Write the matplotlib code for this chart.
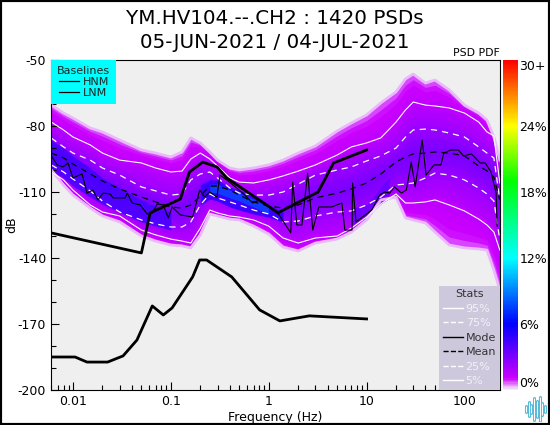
import numpy as np
import matplotlib
matplotlib.use("Agg")
import matplotlib.pyplot as plt
from matplotlib.cm import ScalarMappable
from matplotlib.colors import LinearSegmentedColormap, Normalize
from matplotlib.lines import Line2D
from matplotlib.patches import Rectangle

plt.rcParams['axes.unicode_minus'] = False

# frequency columns of the PDF
freq = [0.006, 0.008, 0.01, 0.015, 0.02, 0.03, 0.05, 0.07, 0.1, 0.13, 0.16, 0.2, 0.25, 0.3, 0.4, 0.5, 0.7, 1,
        1.4, 2, 3, 5, 7, 10, 14, 20, 25, 30, 40, 50, 70, 100, 140, 170, 200, 230]
env_hi = [-70.5, -74.1, -76.4, -80.9, -82.7, -86.4, -90.9, -92.3, -94.1, -91.8, -85.4, -87.7, -91.8, -95.5, -99.1, -100, -99.1, -97.7,
          -95.5, -92.3, -89.1, -82.3, -78.6, -75, -69.5, -64.5, -58.6, -56.4, -60.5, -59.1, -63.6, -70.5, -74.1, -77.3, -85, -95.5]
p95 = [-78.2, -81.8, -85, -88.6, -92.3, -95.5, -96.8, -99.1, -100.9, -100.5, -95, -92.3, -95, -98.2, -103.6, -105.5, -105.9, -104.5,
       -102.7, -100.5, -97.7, -93.2, -89.5, -87.7, -85.4, -78.2, -72.7, -69.1, -70.5, -70.9, -71.8, -74.1, -78.2, -82.7, -84.5, -105.9]
p75 = [-85.5, -89.5, -92.3, -95.5, -99.1, -102.3, -107.7, -109.5, -111.4, -110.9, -104.5, -101.8, -100.9, -103.6, -108.2, -110.5, -111.4, -111.4,
       -110, -106.4, -102.3, -100, -98.6, -95.9, -93.6, -90, -85, -81.8, -81.4, -81.8, -83.2, -85, -89.5, -92.3, -94.5, -113.6]
mean = [-92.3, -94.5, -97.3, -101.8, -105, -108.6, -112.3, -114.5, -116.8, -117.3, -115.9, -111.8, -107.3, -107.3, -109.1, -111.4, -114.5, -116.4,
        -117.3, -115.9, -112.7, -110.5, -108.6, -105.9, -101.8, -96.4, -94.1, -92.7, -92.3, -91.8, -92.3, -93.6, -98.2, -100.4, -103.2, -113.6]
p25 = [-97.7, -100.9, -104.1, -109.5, -114.1, -119.1, -122.7, -124.5, -125.9, -125.9, -123.6, -115.9, -110.9, -112.7, -114.5, -115.9, -118.2, -120,
       -123.6, -123.2, -120.9, -119.1, -118.6, -115.9, -112.3, -106.8, -106.4, -105.9, -103.6, -101.4, -102.3, -104.5, -108.2, -110.9, -114.1, -131.8]
p5 = [-100.9, -104.5, -109.1, -115.9, -119.1, -120.9, -127.3, -129.5, -131.4, -132.3, -133.2, -126.4, -118.2, -119.5, -120.9, -121.4, -122.7, -125.5,
      -130.9, -133.2, -130.9, -130, -126.4, -121.4, -115.4, -110.9, -115, -115, -114.5, -113.6, -115.9, -118.6, -122.3, -125, -128.2, -136.4]
env_lo = [-100, -106.8, -111.4, -117.3, -120.9, -123.6, -130, -132.3, -134.1, -134.5, -135.4, -129.5, -120, -120.9, -122.3, -122.7, -125.5, -129.1,
          -135, -136.8, -133.2, -131.4, -128.2, -122.7, -113.6, -112.3, -121.8, -122.7, -124.1, -128.2, -134.1, -135.4, -135.9, -136.4, -145.5, -154.5]

# denser parts of the PDF
core_a_f = [0.006, 0.008, 0.01, 0.015, 0.02, 0.03, 0.05, 0.07, 0.1]
core_a_hi = [-86.4, -90, -93.6, -99.1, -103.6, -108.2, -113.6, -116.4, -119.1]
core_a_lo = [-100, -103.6, -107.3, -112.3, -115.5, -119.1, -123.6, -125.5, -127.3]
core_b_f = [0.2, 0.25, 0.3, 0.4, 0.5, 0.7, 1, 1.4]
core_b_hi = [-106.8, -104.5, -104.5, -107.7, -109.1, -111.8, -115.9, -119.1]
core_b_lo = [-115.9, -113.2, -114.1, -116.8, -118.2, -120, -121.4, -123.6]
core_c_f = [0.25, 0.3, 0.4, 0.5, 0.7, 1]
core_c_hi = [-106.4, -106.4, -109.1, -110.5, -113.2, -116.8]
core_c_lo = [-110, -110.5, -112.7, -114.1, -116.8, -120]
core_d_f = [7, 10, 14, 17]
core_d_hi = [-117.3, -115.9, -107.7, -103.6]
core_d_lo = [-125.5, -120.9, -115, -112.3]

mode_f = [0.006, 0.0069, 0.0079, 0.0089, 0.01, 0.0124, 0.0139, 0.016, 0.018, 0.0203, 0.0239, 0.0257, 0.0341, 0.0358, 0.0403, 0.0486,
          0.0574, 0.0646, 0.0727, 0.0837, 0.0941, 0.103, 0.125, 0.167, 0.197, 0.222, 0.25, 0.296, 0.317, 0.372, 0.471, 0.542, 0.686, 0.808,
          1.02, 1.24, 1.68, 1.76, 1.94, 2.18, 2.5, 2.82, 3.25, 4.4, 5.6, 6.0, 7.1, 7.2, 7.8, 11.3, 13.6, 15.3, 17.2, 19.3, 22.7, 25.5, 28.6,
          31.4, 37, 40.6, 48.9, 57.5, 61.6, 72.4, 87, 97.7, 118, 145, 163, 187, 211, 216]
mode_db = [-93.6, -97.7, -98.6, -96.8, -103.6, -101.8, -110.5, -109.1, -113.6, -110.5, -110.9, -112.7, -112.7, -110.5, -115, -115.9,
           -120, -119.5, -115.4, -115.9, -121.8, -116.8, -120.4, -121.4, -109.1, -112.3, -110, -112.3, -102.3, -104.5, -108.2, -110.5, -115, -113.6,
           -116.8, -119.5, -128.6, -105.5, -125, -125, -101.4, -127.3, -116.8, -116.8, -115, -127.3, -127.3, -105.9, -123.6, -118.2, -111.4, -110, -110.5, -107.7, -110.5, -109.1, -96.4,
           -107.7, -86.4, -102.3, -97.7, -97.7, -92.3, -90.9, -90.9, -93.6, -92.7, -96.8, -96.8, -100.9, -110.5, -125.6]

hnm_f = [0.006, 0.05, 0.0614, 0.125, 0.155, 0.212, 0.296, 0.372, 1.02, 1.24, 3.2, 4.6, 10]
hnm_db = [-128.6, -137.7, -119.5, -113.2, -100.9, -96.4, -98.6, -103.6, -116.8, -119.5, -110, -96.8, -90.9]
lnm_f = [0.006, 0.0105, 0.0139, 0.0226, 0.0325, 0.045, 0.0646, 0.0837, 0.103, 0.167, 0.197, 0.232, 0.419, 0.808, 1.3, 2.6, 10]
lnm_db = [-185, -185, -187.3, -187.3, -184.5, -177.3, -161.8, -165.9, -162.7, -148.6, -140.9, -140.9, -148.6, -163.6, -168.6, -166.3, -167.7]

cbar_ticks = [0, 6, 12, 18, 24, 30]
cbar_labels = ['0%', '6%', '12%', '18%', '24%', '30+']
xtick_vals = [0.01, 0.1, 1, 10, 100]
xtick_labels = ['0.01', '0.1', '1', '10', '100']
ytick_vals = [-50, -80, -110, -140, -170, -200]
logo_h = [3, 7, 4, 11, 8, 12, 6, 3]

pdf_cmap = LinearSegmentedColormap.from_list('pqlx', [
    (0, '#f2ecf6'), (0.3 / 30, '#e9a8ff'), (1 / 30, '#cc00ff'), (6 / 30, '#0000ff'),
    (12 / 30, '#00ffff'), (19 / 30, '#00ff00'), (24 / 30, '#ffff00'), (1, '#ff0000')])
norm = Normalize(0, 30)


def pct_color(p):
    return pdf_cmap(norm(p))


freq_a = np.array(freq)
fig = plt.figure(figsize=(5.5, 4.25), dpi=100)
ax = fig.add_axes([51 / 550, 35 / 425, 449 / 550, 330 / 425])
ax.set_facecolor('#efefef')


# layers, each blended between two stat curves
def ramp(hi_a, hi_b, lo_a, lo_b, p_a, p_b, n):
    for t in np.linspace(0, 1, n, endpoint=False):
        hi = (1 - t) * np.array(hi_a) + t * np.array(hi_b)
        lo = (1 - t) * np.array(lo_a) + t * np.array(lo_b)
        ax.fill_between(freq_a, lo, hi, color=pct_color(p_a + t * (p_b - p_a)), lw=0)


# pale rim round the cloud
ax.plot(freq, env_hi, color=pct_color(0.35), lw=2)
ax.plot(freq, env_lo, color=pct_color(0.35), lw=2)
ramp(env_hi, p95, env_lo, p5, 0.8, 1.5, 5)
ramp(p95, p75, p5, p25, 1.5, 2.4, 6)
ramp(p75, mean, p25, mean, 2.4, 3.2, 5)
ax.fill_between(core_a_f, core_a_lo, core_a_hi, color=pct_color(4.6), lw=0, alpha=0.75)
ax.fill_between(core_b_f, core_b_lo, core_b_hi, color=pct_color(5), lw=0, alpha=0.85)
ax.fill_between(core_c_f, core_c_lo, core_c_hi, color=pct_color(8), lw=0, alpha=0.7)
ax.fill_between(core_d_f, core_d_lo, core_d_hi, color=pct_color(4), lw=0, alpha=0.6)

ax.plot(freq, p95, color='w', lw=0.8)
ax.plot(freq, p5, color='w', lw=0.8)
ax.plot(freq, p75, color='w', lw=0.9, ls='--', dashes=(5, 4))
ax.plot(freq, p25, color='w', lw=0.9, ls='--', dashes=(5, 4))
ax.plot(freq, mean, color='k', lw=0.9, ls='--', dashes=(5, 4))
ax.plot(mode_f, mode_db, color='k', lw=0.8)
ax.plot(hnm_f, hnm_db, color='k', lw=2)
ax.plot(lnm_f, lnm_db, color='k', lw=2)

ax.set_xscale('log')
ax.set_xlim(0.00596, 231)
ax.set_ylim(-200, -50)
ax.set_xticks(xtick_vals)
ax.set_xticklabels(xtick_labels, fontsize=9)
ax.set_yticks(ytick_vals)
ax.set_yticklabels(['%d' % v for v in ytick_vals], fontsize=9)
ax.set_yticks(np.arange(-200, -49, 10), minor=True)
ax.tick_params(which='major', direction='in', length=6, width=0.8)
ax.tick_params(which='minor', direction='in', length=3.5, width=0.8)
ax.tick_params(axis='x', which='minor', labelbottom=False)
ax.set_xlabel('Frequency (Hz)', fontsize=9, labelpad=2)
ax.set_ylabel('dB', fontsize=9, labelpad=0)

base = ax.legend(handles=[Line2D([], [], color='k', lw=0.9), Line2D([], [], color='k', lw=0.9)], labels=['HNM', 'LNM'],
                 title='Baselines', loc='upper left', fontsize=8, title_fontsize=8, facecolor='cyan', framealpha=1,
                 edgecolor='none', fancybox=False, borderaxespad=0, labelspacing=0.1, handlelength=1.8,
                 handletextpad=0.35, borderpad=0.55, labelcolor='#222222')
base.get_title().set_color('#222222')
ax.add_artist(base)

stat_handles = [Line2D([], [], color='w', lw=1), Line2D([], [], color='w', lw=1, ls='--'),
                Line2D([], [], color='k', lw=1), Line2D([], [], color='k', lw=1, ls='--'),
                Line2D([], [], color='w', lw=1, ls='--'), Line2D([], [], color='w', lw=1)]
stats = ax.legend(handles=stat_handles, labels=['95%', '75%', 'Mode', 'Mean', '25%', '5%'], title='Stats',
                  loc='lower right', fontsize=8, title_fontsize=8, facecolor='#cdc8dc', framealpha=1,
                  edgecolor='none', fancybox=False, borderaxespad=0, labelspacing=0.4, handlelength=1.8,
                  handletextpad=0.25, borderpad=0.35,
                  labelcolor=['#f4f0f8', '#f4f0f8', '#333333', '#333333', '#f4f0f8', '#f4f0f8'])
stats.get_title().set_color('#333333')

fig.text(275 / 550, 1 - 19 / 425, 'YM.HV104.--.CH2 : 1420 PSDs', ha='center', va='center', fontsize=14.3)
fig.text(275 / 550, 1 - 42 / 425, '05-JUN-2021 / 04-JUL-2021', ha='center', va='center', fontsize=14.3)
fig.text(500 / 550, 1 - 53 / 425, 'PSD PDF', ha='right', va='center', fontsize=7.8)

cax = fig.add_axes([503 / 550, 35 / 425, 15 / 550, 330 / 425])
cb = fig.colorbar(ScalarMappable(norm=norm, cmap=pdf_cmap), cax=cax)
cb.outline.set_visible(False)
cb.set_ticks(cbar_ticks)
cb.set_ticklabels(cbar_labels, fontsize=9)
cax.tick_params(length=0, pad=1)
labs = cax.get_yticklabels()
labs[0].set_verticalalignment('bottom')
labs[-1].set_verticalalignment('top')

# small logo, bottom right
logo = fig.add_axes([523 / 550, 3 / 425, 25 / 550, 26 / 425])
logo.axis('off')
logo_x = np.arange(len(logo_h))
logo.vlines(logo_x, -np.array(logo_h), logo_h, color='#4fb8d8', lw=2.2, capstyle='round')
logo.vlines(logo_x, -np.array(logo_h), logo_h, color='w', lw=0.8)
logo.set_xlim(-1, len(logo_h))
logo.set_ylim(-13, 13)

fig.add_artist(Rectangle((0, 0), 1, 1, transform=fig.transFigure, fill=False, ec='k', lw=3))

fig.savefig('out.png', dpi=100)
